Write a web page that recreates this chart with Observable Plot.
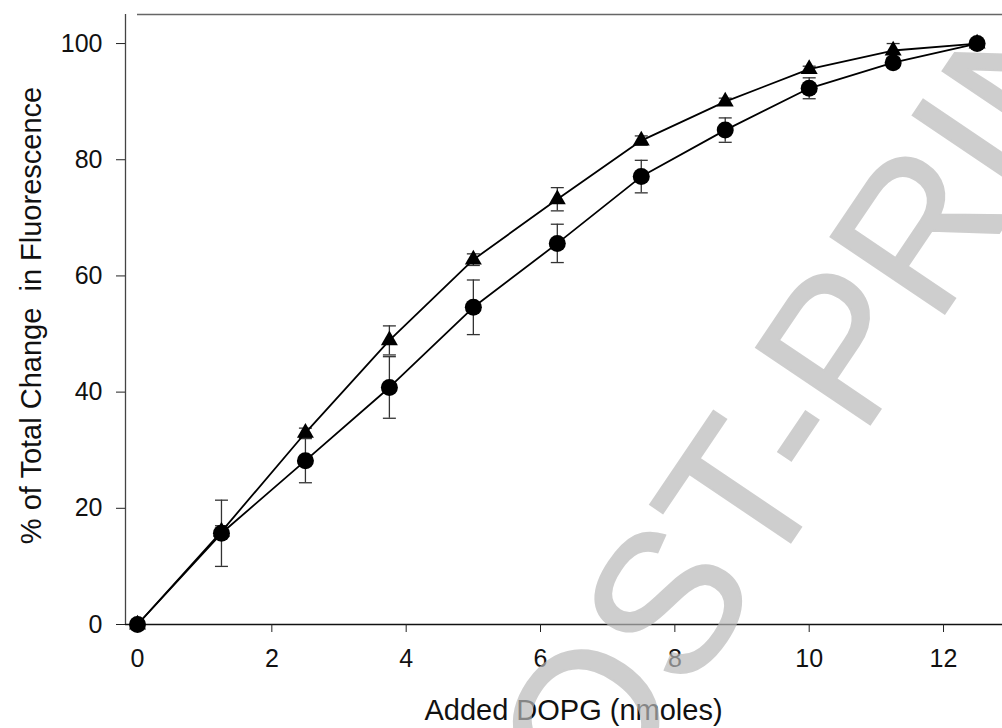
<!DOCTYPE html>
<html>
<head>
<meta charset="utf-8">
<script src="https://cdn.jsdelivr.net/npm/d3@7"></script>
<script src="https://cdn.jsdelivr.net/npm/@observablehq/plot@0.6"></script>
<style>
  html, body { margin: 0; padding: 0; background: #fff; }
  svg text { white-space: pre; }
</style>
</head>
<body>
<div id="chart"></div>
<script>
// Data
const dopg = [0, 1.25, 2.5, 3.75, 5, 6.25, 7.5, 8.75, 10, 11.25, 12.5];
const circleMean = [0, 15.7, 28.2, 40.8, 54.6, 65.6, 77.1, 85.1, 92.3, 96.7, 100];
const circleErr  = [0, 5.7, 3.8, 5.3, 4.7, 3.3, 2.8, 2.1, 1.8, 0.8, 0.3];
const triMean    = [0, 16.0, 33.0, 48.9, 62.8, 73.2, 83.3, 90.0, 95.6, 98.8, 100];
const triErr     = [0, 1.0, 0.8, 2.5, 1.0, 2.0, 0.8, 0.6, 0.5, 1.2, 0.3];
const xTicks = [0, 2, 4, 6, 8, 10, 12];
const yTicks = [0, 20, 40, 60, 80, 100];
const xTitle = "Added DOPG (nmoles)";
const yTitle = "% of Total Change  in Fluorescence";
const watermark = "POST-PRINT";

const xMin = -0.1787, xMax = 12.878, yMax = 105;

const circles = dopg.map((x, i) => ({x, y: circleMean[i], e: circleErr[i]}));
const tris = dopg.map((x, i) => ({x, y: triMean[i], e: triErr[i]}));
const bars = [...circles, ...tris];

const capSymbol = {
  draw(context) {
    context.moveTo(-6.5, 0);
    context.lineTo(6.5, 0);
  }
};

const font = "'Liberation Sans', Arial, Helvetica, sans-serif";

const chart = Plot.plot({
  width: 1002,
  height: 728,
  marginLeft: 125,
  marginRight: 0,
  marginTop: 14,
  marginBottom: 104,
  style: {fontFamily: font, background: "#fff", overflow: "hidden"},
  x: {domain: [xMin, xMax]},
  y: {domain: [0, yMax]},
  marks: [
    Plot.ruleX([xMin], {x: d => d, y1: 0, y2: yMax, stroke: "#444", strokeWidth: 1.3}),
    Plot.ruleY([yMax], {y: d => d, x1: 0, x2: xMax, stroke: "#666", strokeWidth: 1.6}),
    Plot.ruleY([0], {y: d => d, x1: xMin, x2: xMax, stroke: "#111", strokeWidth: 1.3}),
    Plot.axisY({ticks: yTicks, tickSize: 9, tickPadding: 14, fontSize: 25, label: null, stroke: "#222", fill: "#111"}),
    Plot.axisX({ticks: xTicks, tickSize: 8, tickPadding: 17, fontSize: 25, label: null, stroke: "#222", fill: "#111"}),
    Plot.text([yTitle], {text: d => d, frameAnchor: "left", dx: -85, dy: -4, rotate: -90,
      textAnchor: "middle", lineAnchor: "bottom", fontSize: 29, fill: "#111"}),
    Plot.text([xTitle], {text: d => d, frameAnchor: "bottom", dx: 9.5, dy: 95,
      textAnchor: "middle", lineAnchor: "bottom", fontSize: 29, fill: "#111"}),
    Plot.ruleX(bars, {x: "x", y1: d => d.y - d.e, y2: d => d.y + d.e, stroke: "#333", strokeWidth: 1.3}),
    Plot.dot(bars, {x: "x", y: d => d.y - d.e, symbol: capSymbol, fill: "none", stroke: "#333", strokeWidth: 1.3}),
    Plot.dot(bars, {x: "x", y: d => d.y + d.e, symbol: capSymbol, fill: "none", stroke: "#333", strokeWidth: 1.3}),
    Plot.line(circles, {x: "x", y: "y", stroke: "#000", strokeWidth: 1.8}),
    Plot.line(tris, {x: "x", y: "y", stroke: "#000", strokeWidth: 1.8}),
    Plot.dot(tris, {x: "x", y: "y", symbol: "triangle", r: 6.3, fill: "#000", stroke: "none"}),
    Plot.dot(circles, {x: "x", y: "y", r: 8.5, fill: "#000", stroke: "none"})
  ]
});

// Watermark drawn over the plot
d3.select(chart).append("text")
  .text(watermark)
  .attr("transform", "translate(861,438) rotate(-56)")
  .attr("text-anchor", "middle")
  .attr("font-family", font)
  .attr("font-weight", "normal")
  .attr("font-size", 200)
  .attr("fill", "rgb(185,185,185)")
  .attr("stroke", "rgb(185,185,185)")
  .attr("stroke-width", 2)
  .attr("opacity", 0.69);

document.getElementById("chart").appendChild(chart);
</script>
</body>
</html>
